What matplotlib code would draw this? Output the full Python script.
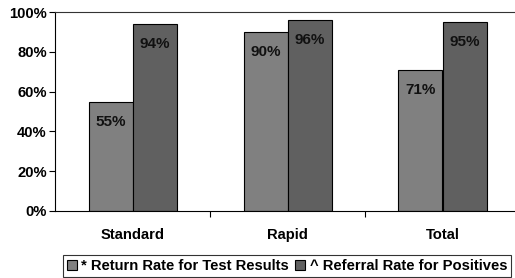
import numpy as np
import matplotlib.pyplot as plt

# chart values
categories = ['Standard', 'Rapid', 'Total']
return_rate = [55, 90, 71]
referral_rate = [94, 96, 95]
series_names = ['* Return Rate for Test Results', '^ Referral Rate for Positives']

plt.rcParams['font.family'] = ['Liberation Sans', 'DejaVu Sans']
plt.rcParams['font.weight'] = 'bold'
fs = 10.6

fig = plt.figure(figsize=(5.15, 2.78), dpi=100)
ax = fig.add_axes([55 / 515, 1 - 211 / 278, 465 / 515, 199 / 278])

x = np.arange(len(categories)) + 0.5
w = 44 / 155
b1 = ax.bar(x - w / 2, return_rate, w, color='#808080', edgecolor='black', linewidth=0.8, label=series_names[0])
b2 = ax.bar(x + w / 2, referral_rate, w, color='#606060', edgecolor='black', linewidth=0.8, label=series_names[1])

# value labels inside the bars
for bars in (b1, b2):
    for r in bars:
        ax.annotate(f'{r.get_height():.0f}%', (r.get_x() + r.get_width() / 2, r.get_height()),
                    xytext=(0, -20), textcoords='offset pixels',
                    ha='center', va='center', fontsize=fs + 0.4, fontweight='bold', color='#111111')

ax.set_xlim(0, 3)
ax.set_ylim(0, 100)
ax.set_yticks(range(0, 101, 20))
ax.set_yticklabels([f'{v}%' for v in range(0, 101, 20)], fontsize=fs, fontweight='bold')
ax.set_xticks([1, 2])
ax.set_xticklabels([])
ax.tick_params(axis='x', length=4, width=0.8, direction='out')
ax.tick_params(axis='y', length=4, width=0.8, direction='out', pad=2)
for i, c in enumerate(categories):
    ax.text(x[i], -12, c, ha='center', va='center', fontsize=fs, fontweight='bold', clip_on=False)

ax.spines['right'].set_visible(False)
ax.spines['top'].set_color('#333333')
ax.spines['top'].set_linewidth(0.8)
ax.spines['left'].set_linewidth(0.8)
ax.spines['bottom'].set_linewidth(0.8)

leg = fig.legend(loc='center', bbox_to_anchor=(287 / 515, 1 - 266 / 278), ncol=2,
                 frameon=True, fancybox=False, edgecolor='black',
                 handlelength=0.7, handleheight=0.7, handletextpad=0.3, columnspacing=0.4,
                 borderpad=0.25, prop={'weight': 'bold', 'size': fs})
leg.get_frame().set_linewidth(0.8)

fig.savefig('out.png', dpi=100)
